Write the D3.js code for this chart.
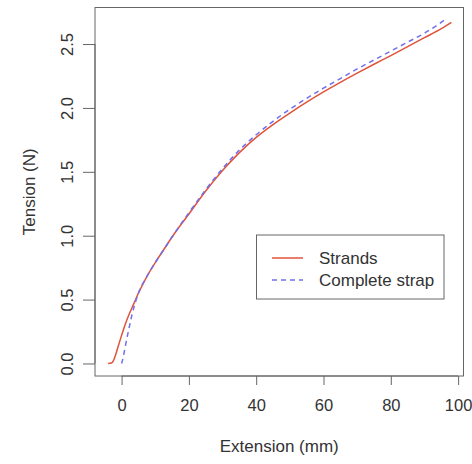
<!DOCTYPE html>
<html><head><meta charset="utf-8">
<script src="https://cdn.jsdelivr.net/npm/d3@7"></script>
<style>body{margin:0;background:#fff}svg{display:block}text{font-family:"Liberation Sans",Arial,sans-serif;fill:#333}</style>
</head><body><svg id="c" width="472" height="464"></svg>
<script>
const strandsX = [-4,-3,-2.5,-2,-1,0,1,2,3,5,7.5,10,12.5,15,20,25,30,35,40,45,50,55,60,65,70,75,80,85,90,95,98];
const strandsY = [0,0.004,0.018,0.05,0.135,0.22,0.30,0.37,0.43,0.55,0.68,0.79,0.89,0.99,1.17,1.35,1.51,1.65,1.77,1.87,1.96,2.045,2.125,2.20,2.272,2.342,2.41,2.48,2.55,2.62,2.67];
const strapX = [0,0.5,1,2,3,4,5,7.5,10,12.5,15,20,25,30,35,40,45,50,55,60,65,70,75,80,85,90,96.6];
const strapY = [0,0.05,0.12,0.25,0.37,0.47,0.55,0.68,0.79,0.89,0.99,1.18,1.36,1.525,1.67,1.79,1.895,1.99,2.075,2.155,2.23,2.305,2.375,2.445,2.515,2.585,2.70];
const xTicks = [0,20,40,60,80,100];
const yTicks = [0.0,0.5,1.0,1.5,2.0,2.5];
const seriesNames = ["Strands","Complete strap"];
const colors = ["#e0533b","#7070ee"];

const svg = d3.select("#c");
const L=95, R=463.5, T=7.5, B=376;
const x = d3.scaleLinear().domain([-7.9,101.6]).range([L,R]);
const y = d3.scaleLinear().domain([-0.098,2.786]).range([B,T]);

const line = d3.line().x(d=>x(d[0])).y(d=>y(d[1])).curve(d3.curveMonotoneX);
const s1 = strandsX.map((v,i)=>[v,strandsY[i]]);
const s2 = strapX.map((v,i)=>[v,strapY[i]]);

svg.append("path").datum(s1).attr("d",line).attr("fill","none").attr("stroke",colors[0]).attr("stroke-width",1.5);
svg.append("path").datum(s2).attr("d",line).attr("fill","none").attr("stroke",colors[1]).attr("stroke-width",1.5).attr("stroke-dasharray","5,4");

svg.append("rect").attr("x",L).attr("y",T).attr("width",R-L).attr("height",B-T).attr("fill","none").attr("stroke","#666").attr("stroke-width",1);

const xa = svg.append("g").attr("transform",`translate(0,${B})`)
  .call(d3.axisBottom(x).tickValues(xTicks).tickSize(9).tickPadding(14).tickFormat(d3.format("d")));
xa.select(".domain").attr("d",`M${x(0)},0H${x(100)}`).attr("stroke","#666");
xa.selectAll(".tick line").attr("stroke","#666");
xa.selectAll("text").style("font-size","16.5px").attr("fill","#333");

const ya = svg.append("g").attr("transform",`translate(${L},0)`)
  .call(d3.axisLeft(y).tickValues(yTicks).tickSize(12).tickFormat(d3.format(".1f")));
ya.select(".domain").attr("d",`M0,${y(0)}V${y(2.5)}`).attr("stroke","#666");
ya.selectAll(".tick line").attr("stroke","#666");
ya.selectAll(".tick text").attr("x",0).attr("dy",0).attr("transform","translate(-28,0) rotate(-90)")
  .attr("text-anchor","middle").attr("dominant-baseline","central").style("font-size","16.5px").attr("fill","#333");

svg.append("text").attr("x",(L+R)/2).attr("y",452).attr("text-anchor","middle").style("font-size","17px").text("Extension (mm)");
svg.append("text").attr("transform",`translate(29,${(T+B)/2}) rotate(-90)`).attr("text-anchor","middle").attr("dominant-baseline","central").style("font-size","17px").text("Tension (N)");

const lg = svg.append("g");
lg.append("rect").attr("x",256.5).attr("y",235).attr("width",187.5).attr("height",64).attr("fill","#fff").attr("stroke","#666");
seriesNames.forEach((n,i)=>{
  const yy = 258 + i*22;
  lg.append("line").attr("x1",272).attr("x2",303).attr("y1",yy).attr("y2",yy).attr("stroke",colors[i]).attr("stroke-width",1.5).attr("stroke-dasharray",i?"5,4":null);
  lg.append("text").attr("x",319).attr("y",yy).attr("dominant-baseline","central").style("font-size","17px").text(n);
});
</script></body></html>
